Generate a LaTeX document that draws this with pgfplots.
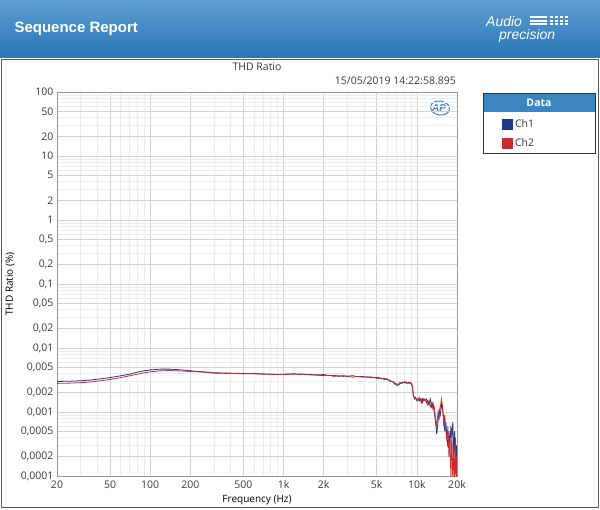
\documentclass[border=0pt]{standalone}
\usepackage{fontspec}
\setmainfont{Open Sans}
\newfontfamily\hdr{Liberation Sans}
\usepackage{pgfplots}
\pgfplotsset{compat=1.18}

\definecolor{hdrtop}{HTML}{5E9ED3}
\definecolor{hdrbot}{HTML}{2A76B6}
\definecolor{legblue}{HTML}{3A86C0}
\definecolor{ch1}{HTML}{1B3A86}
\definecolor{ch2}{HTML}{CC2B2E}
\definecolor{majgrid}{HTML}{D2D2D2}
\definecolor{mingrid}{HTML}{ECECEC}
\definecolor{txt}{HTML}{3A3A3A}
\definecolor{aplogo}{HTML}{3C7FC6}

\begin{document}
\begin{tikzpicture}
\path[use as bounding box] (0pt,0pt) rectangle (600pt,-509pt);
\fill[white] (0pt,0pt) rectangle (600pt,-509pt);
% report header
\shade[top color=hdrtop, bottom color=hdrbot] (0pt,0pt) rectangle (600pt,-57pt);
\node[anchor=west, text=white, font=\hdr\bfseries\fontsize{15}{18}\selectfont] at (11pt,-29pt) {Sequence Report};
\node[anchor=west, text=white, font=\hdr\itshape\fontsize{14}{14}\selectfont, inner sep=0pt] at (486pt,-21pt) {Audio};
\foreach \yy in {16,19.5,23} {
  \fill[white] (530pt,-\yy pt) rectangle (547pt,-\yy pt-2pt);
  \foreach \xx in {550,555,560,565} \fill[white] (\xx pt,-\yy pt) rectangle (\xx pt+3pt,-\yy pt-2pt);
}
\node[anchor=west, text=white, font=\hdr\itshape\fontsize{14}{14}\selectfont, inner sep=0pt] at (499pt,-36pt) {precision};
\draw[gray!70!black] (1.5pt,-59.5pt) rectangle (598.5pt,-507.5pt);
% titles
\node[text=txt, font=\fontsize{10.5}{12}\selectfont] at (257pt,-67pt) {THD Ratio};
\node[anchor=east, text=txt, font=\fontsize{10.5}{12}\selectfont, inner sep=0pt] at (456pt,-81pt) {15/05/2019 14:22:58.895};
% legend frame
\fill[legblue] (483pt,-93pt) rectangle (595pt,-112pt);
\draw[black!80, line width=0.9pt] (483pt,-93pt) rectangle (595pt,-153pt);
\node[text=white, font=\bfseries\fontsize{10.5}{12}\selectfont] at (539pt,-102.5pt) {Data};
% AP mark
\draw[aplogo, line width=1pt, rotate around={-10:(440pt,-108pt)}] (440pt,-108pt) ellipse (9.5pt and 7pt);
\node[text=aplogo, font=\hdr\bfseries\itshape\fontsize{10}{10}\selectfont] at (439pt,-108pt) {AP};

\begin{axis}[
    at={(57pt,-476pt)}, anchor=south west,
    scale only axis, width=400pt, height=384pt,
    xmode=log, ymode=log,
    xmin=20, xmax=20000, ymin=0.0001, ymax=100,
    xtick={20,50,100,200,500,1000,2000,5000,10000,20000},
    xticklabels={20,50,100,200,500,1k,2k,5k,10k,20k},
    minor xtick={30,40,60,70,80,90,300,400,600,700,800,900,3000,4000,6000,7000,8000,9000},
    ytick={0.0001,0.0002,0.0005,0.001,0.002,0.005,0.01,0.02,0.05,0.1,0.2,0.5,1,2,5,10,20,50,100},
    yticklabels={{0,0001},{0,0002},{0,0005},{0,001},{0,002},{0,005},{0,01},{0,02},{0,05},{0,1},{0,2},{0,5},1,2,5,10,20,50,100},
    minor ytick={0.0003,0.0004,0.0006,0.0007,0.0008,0.0009,0.003,0.004,0.006,0.007,0.008,0.009,
                 0.03,0.04,0.06,0.07,0.08,0.09,0.3,0.4,0.6,0.7,0.8,0.9,3,4,6,7,8,9,30,40,60,70,80,90},
    grid=both,
    major grid style={majgrid, line width=0.6pt},
    minor grid style={mingrid, line width=0.5pt},
    major tick length=0pt, minor tick length=0pt,
    axis line style={black!40},
    tick label style={text=txt, font=\fontsize{10.5}{12}\selectfont},
    /pgf/number format/assume math mode=true,
    xticklabel style={yshift=-1pt},
    xlabel={Frequency (Hz)},
    ylabel={THD Ratio (\%)},
    label style={text=txt, font=\fontsize{10.5}{12}\selectfont},
    every axis x label/.style={at={(axis description cs:0.5,-0.0625)}, anchor=center},
    every axis y label/.style={at={(axis description cs:-0.1175,0.5)}, anchor=center, rotate=90},
    legend style={at={(axis description cs:1.1125,0.935)}, anchor=north west, draw=none, fill=none,
                  inner sep=0pt, row sep=6pt, font=\fontsize{10.5}{12}\selectfont, text=txt},
    legend cell align=left,
    legend image code/.code={\fill[#1] (0pt,-5pt) rectangle (10pt,5pt);},
]
\addplot[ch1, line width=0.8pt] coordinates {
(20,0.00300) (25,0.00303) (30,0.00308) (35,0.00315) (40,0.00325) (50,0.00345) (60,0.00368)
(70,0.0039) (80,0.0042) (90,0.0044) (100,0.00455) (120,0.00468) (140,0.00468) (160,0.0046)
(180,0.0045) (200,0.0044) (250,0.00425) (300,0.0041) (400,0.00405) (500,0.0040) (600,0.0040)
(700,0.00395) (800,0.0039) (1000,0.0039) (1200,0.00395) (1400,0.0039) (1600,0.00385)
(1800,0.0038) (2000,0.00385) (2200,0.0037) (2400,0.00375) (2600,0.0036) (2800,0.0037)
(3000,0.0036) (3300,0.0037) (3600,0.00355) (3900,0.0036) (4200,0.0035) (4500,0.00355)
(4800,0.0034) (5100,0.0035) (5400,0.0033) (5700,0.0034) (6000,0.0032) (6300,0.0031)
(6600,0.00295) (6900,0.0027) (7200,0.0026) (7500,0.0028) (7800,0.0029) (8100,0.0029)
(8400,0.0028) (8700,0.0029) (9000,0.0028) (9200,0.0026) (9400,0.0019) (9600,0.0016)
(9800,0.0017) (10000,0.0015) (10200,0.0016) (10400,0.0015) (10600,0.0016) (10800,0.0014)
(11000,0.0016) (11200,0.0015) (11500,0.0016) (11800,0.0014) (12000,0.0015) (12300,0.0013)
(12600,0.0016) (12900,0.0012) (13200,0.0014) (13500,0.0010) (13800,0.0007) (14100,0.00045)
(14400,0.0007) (14700,0.0011) (15000,0.0009) (15300,0.0013) (15600,0.0011) (15900,0.0008)
(16200,0.0005) (16500,0.0007) (16800,0.0004) (17100,0.00028) (17400,0.0005) (17700,0.0003)
(18000,0.0006) (18300,0.0004) (18600,0.0007) (18900,0.0002) (19200,0.0005) (19500,0.00015)
(19800,0.0003) (20000,0.0002)
};
\addlegendentry{Ch1}
\addplot[ch2, line width=0.8pt] coordinates {
(20,0.00280) (25,0.00283) (30,0.00288) (35,0.00294) (40,0.00303) (50,0.00322) (60,0.00345)
(70,0.00368) (80,0.0039) (90,0.0041) (100,0.00425) (120,0.0044) (140,0.00445) (160,0.0044)
(180,0.00435) (200,0.0043) (250,0.0042) (300,0.00405) (400,0.0040) (500,0.00395) (600,0.00395)
(700,0.0039) (800,0.00388) (1000,0.00385) (1200,0.0039) (1400,0.00385) (1600,0.0038)
(1800,0.00375) (2000,0.0037) (2200,0.00375) (2400,0.0036) (2600,0.0037) (2800,0.0036)
(3000,0.00365) (3300,0.0035) (3600,0.0036) (3900,0.0035) (4200,0.00355) (4500,0.0034)
(4800,0.0035) (5100,0.0033) (5400,0.0034) (5700,0.0032) (6000,0.0033) (6300,0.0030)
(6600,0.0030) (6900,0.0028) (7200,0.0027) (7500,0.0029) (7800,0.0028) (8100,0.0030)
(8400,0.0029) (8700,0.0028) (9000,0.0029) (9200,0.0027) (9400,0.0018) (9600,0.0017)
(9800,0.0016) (10000,0.0016) (10200,0.0015) (10400,0.0017) (10600,0.0015) (10800,0.0016)
(11000,0.0014) (11200,0.0016) (11500,0.0015) (11800,0.0016) (12000,0.0013) (12300,0.0015)
(12600,0.0012) (12900,0.0014) (13200,0.0011) (13500,0.0012) (13800,0.0008) (14100,0.0006)
(14400,0.0010) (14700,0.0008) (15000,0.0012) (15300,0.0016) (15600,0.0012) (15900,0.0006)
(16200,0.0009) (16500,0.0005) (16800,0.00035) (17100,0.0006) (17400,0.0002) (17700,0.0004)
(18000,0.00009) (18300,0.0005) (18600,0.00008) (18900,0.0003) (19200,0.00007) (19500,0.0004)
(19800,0.00006) (20000,0.0002)
};
\addlegendentry{Ch2}
\end{axis}
\end{tikzpicture}
\end{document}
